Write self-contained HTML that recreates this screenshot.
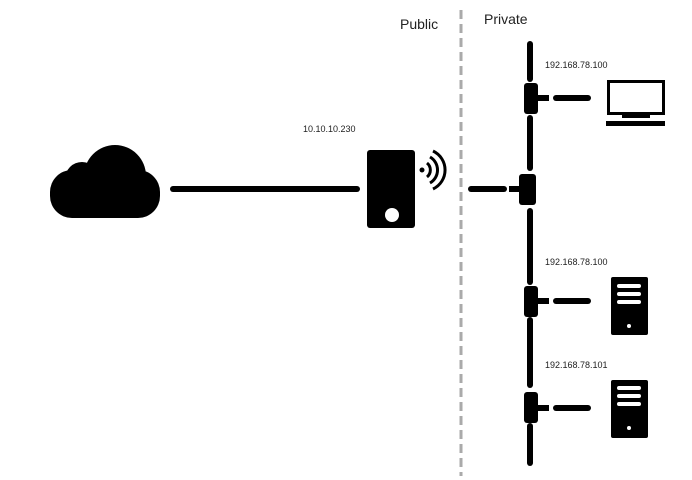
<!DOCTYPE html>
<html><head><style>
html,body{margin:0;padding:0;background:#fff;}
svg{display:block;}
text{font-family:"Liberation Sans",sans-serif;fill:#222;}
</style></head><body>
<svg width="692" height="480" viewBox="0 0 692 480" xmlns="http://www.w3.org/2000/svg">
<!-- cloud -->
<g fill="#000">
<circle cx="115" cy="176" r="31"/>
<circle cx="82" cy="179" r="17"/>
<rect x="50" y="170" width="110" height="48" rx="22"/>
</g>
<!-- link -->
<line x1="173" y1="189" x2="357" y2="189" stroke="#000" stroke-width="6" stroke-linecap="round"/>
<!-- router -->
<rect x="367" y="150" width="48" height="78" rx="3" fill="#000"/>
<circle cx="392" cy="215" r="7" fill="#fff"/>
<circle cx="422" cy="170" r="2.5" fill="#000"/>
<g fill="none" stroke="#000" stroke-width="3">
<path d="M427 163 A9 9 0 0 1 427 177"/>
<path d="M430 157 A15 15 0 0 1 430 183"/>
<path d="M433 151 A21 21 0 0 1 433 189"/>
</g>
<!-- dashed divider -->
<line x1="461" y1="10" x2="461" y2="476" stroke="#aaa" stroke-width="3" stroke-dasharray="9,5"/>
<text x="400" y="29" font-size="14">Public</text>
<text x="484" y="24" font-size="14">Private</text>
<text x="303" y="132" font-size="9">10.10.10.230</text>
<!-- bus -->
<g stroke="#000" stroke-width="6" stroke-linecap="round">
<line x1="530" y1="44" x2="530" y2="79"/>
<line x1="530" y1="118" x2="530" y2="168"/>
<line x1="530" y1="211" x2="530" y2="282"/>
<line x1="530" y1="320" x2="530" y2="385"/>
<line x1="530" y1="426" x2="530" y2="463"/>
<line x1="471" y1="189" x2="504" y2="189"/>
<line x1="556" y1="98" x2="588" y2="98"/>
<line x1="556" y1="301" x2="588" y2="301"/>
<line x1="556" y1="408" x2="588" y2="408"/>
</g>
<g fill="#000">
<rect x="524" y="83" width="14" height="31" rx="3"/><rect x="537" y="95" width="12" height="6"/>
<rect x="519" y="174" width="17" height="31" rx="3"/><rect x="509" y="186" width="12" height="6"/>
<rect x="524" y="286" width="14" height="31" rx="3"/><rect x="537" y="298" width="12" height="6"/>
<rect x="524" y="392" width="14" height="31" rx="3"/><rect x="537" y="405" width="12" height="6"/>
</g>
<text x="545" y="68" font-size="9">192.168.78.100</text>
<text x="545" y="265" font-size="9">192.168.78.100</text>
<text x="545" y="368" font-size="9">192.168.78.101</text>
<!-- laptop -->
<rect x="608.5" y="81.5" width="55" height="32" fill="none" stroke="#000" stroke-width="3"/>
<rect x="622" y="113" width="28" height="5" fill="#000"/>
<rect x="606" y="121" width="59" height="5" fill="#000"/>
<!-- servers -->
<g>
<rect x="611" y="277" width="37" height="58" rx="2" fill="#000"/>
<rect x="617" y="284" width="24" height="4" rx="2" fill="#fff"/>
<rect x="617" y="292" width="24" height="4" rx="2" fill="#fff"/>
<rect x="617" y="300" width="24" height="4" rx="2" fill="#fff"/>
<circle cx="629" cy="326" r="2" fill="#fff"/>
<rect x="611" y="380" width="37" height="58" rx="2" fill="#000"/>
<rect x="617" y="386" width="24" height="4" rx="2" fill="#fff"/>
<rect x="617" y="394" width="24" height="4" rx="2" fill="#fff"/>
<rect x="617" y="402" width="24" height="4" rx="2" fill="#fff"/>
<circle cx="629" cy="428" r="2" fill="#fff"/>
</g>
</svg>
</body></html>
